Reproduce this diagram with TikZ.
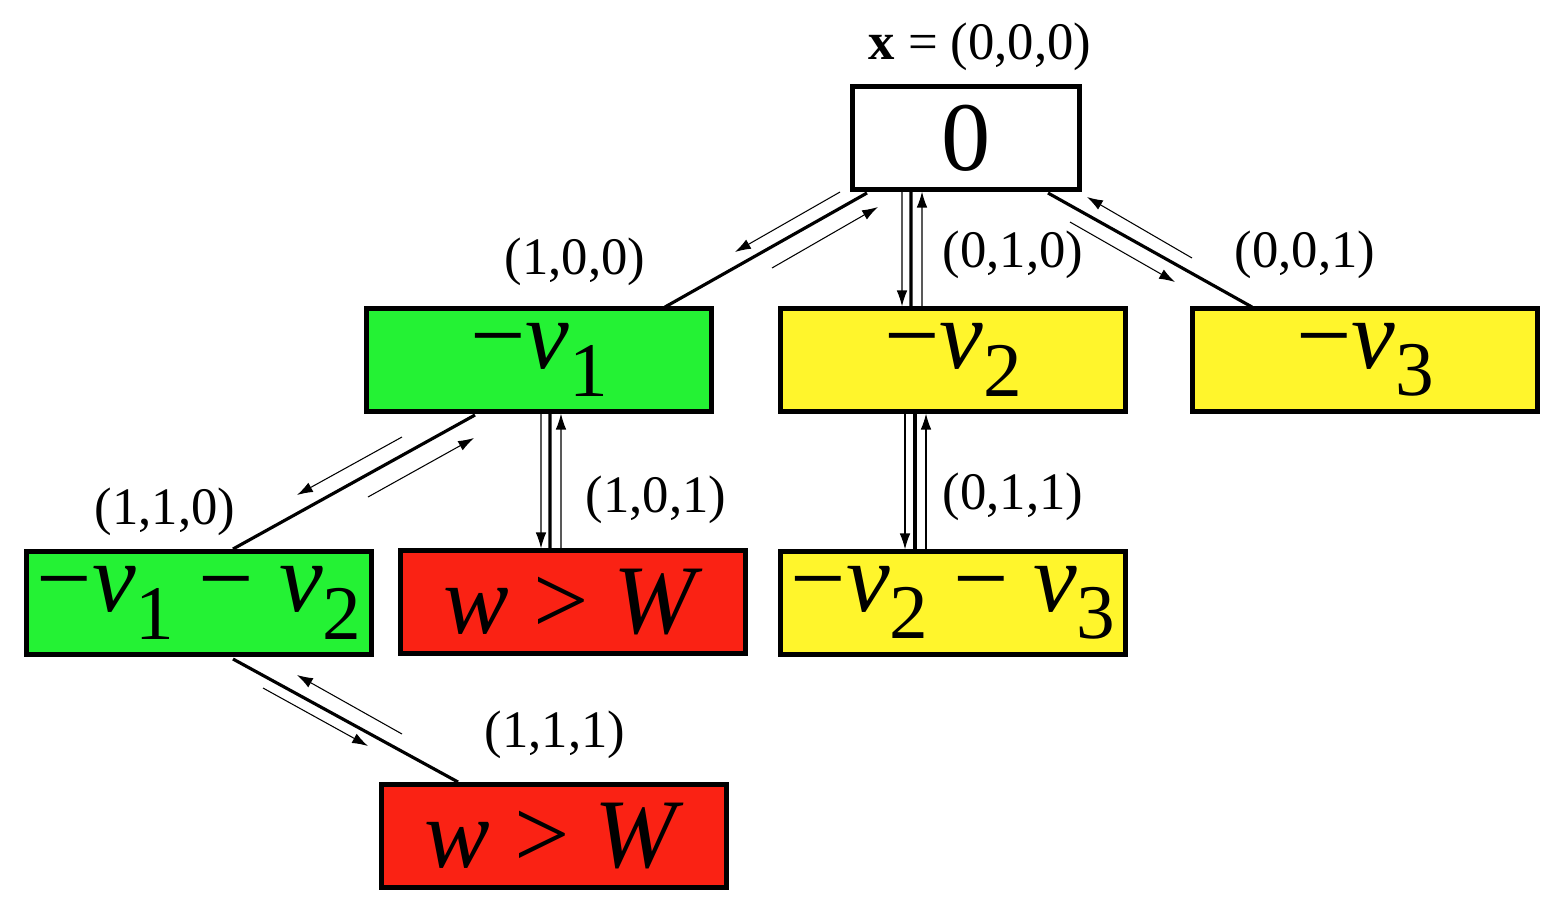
\documentclass[tikz,border=0pt]{standalone}
\usepackage{fontspec}
\setmainfont{Liberation Serif}
\usetikzlibrary{arrows.meta}
\newcommand{\vv}[1]{\textit{v}\raisebox{-0.28em}{\fontsize{44}{44}\selectfont #1}}
\definecolor{boxgreen}{RGB}{36,242,52}
\definecolor{boxyellow}{RGB}{255,245,44}
\definecolor{boxred}{RGB}{250,34,20}

\begin{document}
\begin{tikzpicture}[x=0.02cm, y=-0.02cm,
  box/.style={draw, line width=2.8pt, minimum width=6.9cm, minimum height=2.05cm,
    inner sep=0pt, font=\fontsize{56}{60}\selectfont},
  lab/.style={font=\fontsize{30}{34}\selectfont, inner sep=0pt},
  edge/.style={line width=1.8pt},
  arr/.style={line width=0.6pt, -{Latex[length=9pt,width=6pt]}}]
\useasboundingbox (0,0) rectangle (1560,920);

\begin{scope}
\node[box, minimum width=4.55cm] (root) at (966,138) {0};
\node[box, fill=boxgreen] (v1) at (539,360) {−\vv{1}};
\node[box, fill=boxyellow] (v2) at (953,360) {−\vv{2}};
\node[box, fill=boxyellow] (v3) at (1365,360) {−\vv{3}};
\node[box, fill=boxgreen] (v12) at (199,603) {−\vv{1} − \vv{2}};
\node[box, fill=boxred] (wa) at (573,602) {\textit{w} > \textit{W}};
\node[box, fill=boxyellow] (v23) at (953,603) {−\vv{2} − \vv{3}};
\node[box, fill=boxred] (wb) at (554,836) {\textit{w} > \textit{W}};
\end{scope}

\node[lab] (l000) at (980,47) {\textbf{x} = (0,0,0)};
\node[lab] (l100) at (575,262) {(1,0,0)};
\node[lab] (l010) at (1013,255) {(0,1,0)};
\node[lab] (l001) at (1305,255) {(0,0,1)};
\node[lab] (l110) at (165,512) {(1,1,0)};
\node[lab] (l101) at (656,500) {(1,0,1)};
\node[lab] (l011) at (1013,497) {(0,1,1)};
\node[lab] (l111) at (555,735) {(1,1,1)};

% anchor points on the boxes
\coordinate (a1) at (867,193); \coordinate (b1) at (665,307);
\coordinate (a3) at (1048,193); \coordinate (b3) at (1252,307);
\coordinate (a4) at (475,415); \coordinate (b4) at (233,549);
\coordinate (a6) at (233,659); \coordinate (b6) at (458,782);
\coordinate (p1) at (840,192); \coordinate (q1) at (735,252);
\coordinate (p2) at (772,268); \coordinate (q2) at (878,207);
\coordinate (p3) at (1070,222); \coordinate (q3) at (1175,282);
\coordinate (p4) at (1192,258); \coordinate (q4) at (1087,197);
\coordinate (p5) at (402,437); \coordinate (q5) at (297,495);
\coordinate (p6) at (368,497); \coordinate (q6) at (474,438);
\coordinate (p7) at (263,688); \coordinate (q7) at (368,746);
\coordinate (p8) at (402,734); \coordinate (q8) at (297,675);

\draw[edge] (a1) -- (b1);
\draw[edge] (a3) -- (b3);
\draw[edge] (a4) -- (b4);
\draw[edge] (a6) -- (b6);
\draw[edge] ([xshift=-1.1cm]root.south) -- ([xshift=-0.84cm]v2.north);
\draw[edge] ([xshift=0.22cm]v1.south) -- ([xshift=-0.46cm]wa.north);
\draw[edge] ([xshift=-0.76cm]v2.south) -- ([xshift=-0.76cm]v23.north);

\draw[arr] (p1) -- (q1);
\draw[arr] (p2) -- (q2);
\draw[arr] (p3) -- (q3);
\draw[arr] (p4) -- (q4);
\draw[arr] (p5) -- (q5);
\draw[arr] (p6) -- (q6);
\draw[arr] (p7) -- (q7);
\draw[arr] (p8) -- (q8);
\draw[arr] ([xshift=-1.28cm]root.south) -- ([xshift=-1.02cm]v2.north);
\draw[arr] ([xshift=-0.62cm]v2.north) -- ([xshift=-0.88cm]root.south);
\draw[arr] ([xshift=0.04cm]v1.south) -- ([xshift=-0.64cm]wa.north);
\draw[arr] ([xshift=-0.24cm]wa.north) -- ([xshift=0.44cm]v1.south);
\draw[arr] ([xshift=-0.96cm]v2.south) -- ([xshift=-0.96cm]v23.north);
\draw[arr] ([xshift=-0.54cm]v23.north) -- ([xshift=-0.54cm]v2.south);
\end{tikzpicture}
\end{document}
